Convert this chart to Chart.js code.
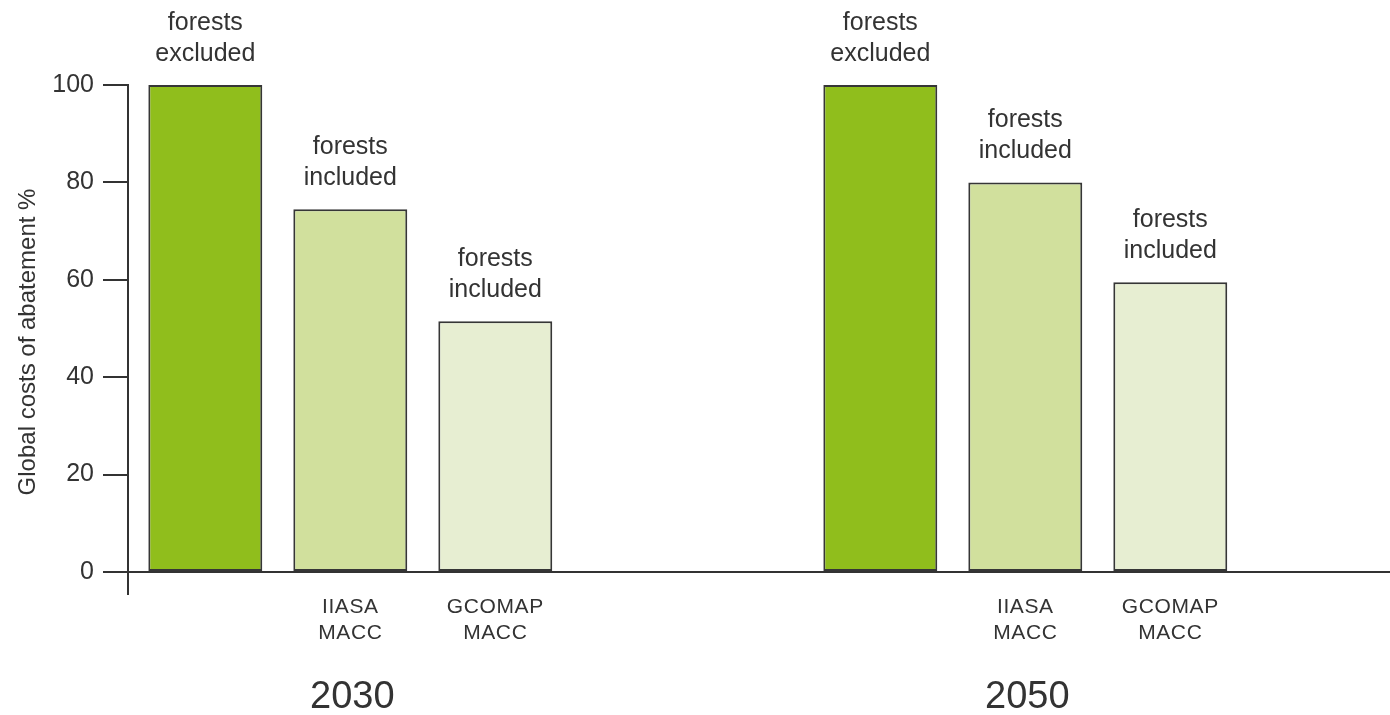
<!DOCTYPE html>
<html>
<head>
<meta charset="utf-8">
<script src="https://cdn.jsdelivr.net/npm/chart.js@4/dist/chart.umd.min.js"></script>
<style>
  html, body { margin: 0; padding: 0; background: #ffffff; }
  #wrap { width: 1390px; height: 715px; }
</style>
</head>
<body>
<div id="wrap"><canvas id="c" width="1390" height="715"></canvas></div>
<script>
// ---- data ----
const years = [2030, 2050];
const seriesNames = ['forests excluded', 'IIASA MACC', 'GCOMAP MACC'];
const forestsExcluded = [100, 100];
const iiasaMacc = [74.5, 80];
const gcomapMacc = [51.5, 59.5];
const barNotes = [['forests', 'excluded'], ['forests', 'included'], ['forests', 'included']];
const barCaptions = [[], ['IIASA', 'MACC'], ['GCOMAP', 'MACC']];
const yTitle = 'Global costs of abatement %';
const yMin = 0, yMax = 100, yStep = 20;

const seriesValues = [forestsExcluded, iiasaMacc, gcomapMacc];
const seriesColors = ['#90be1c', '#d1e09d', '#e7eed2'];
const textColor = '#333333';
const lineColor = '#333333';
const FONT = '"Liberation Sans", Arial, Helvetica, sans-serif';

const labelPlugin = {
  id: 'labelPlugin',
  afterDatasetsDraw(chart) {
    const ctx = chart.ctx;
    const area = chart.chartArea;
    const xs = chart.scales.x;
    ctx.save();
    // axis extension below zero
    ctx.strokeStyle = lineColor;
    ctx.lineWidth = 2;
    ctx.beginPath();
    ctx.moveTo(area.left, area.bottom);
    ctx.lineTo(area.left, area.bottom + 23);
    ctx.stroke();

    ctx.fillStyle = textColor;
    ctx.textAlign = 'center';
    ctx.textBaseline = 'middle';
    chart.data.datasets.forEach((ds, di) => {
      const meta = chart.getDatasetMeta(di);
      meta.data.forEach((bar) => {
        ctx.font = '25px ' + FONT;
        const notes = barNotes[di];
        notes.forEach((t, li) => {
          ctx.fillText(t, bar.x, bar.y - 31 - (notes.length - 1 - li) * 31);
        });
        ctx.font = '21px ' + FONT;
        if ('letterSpacing' in ctx) ctx.letterSpacing = '0.6px';
        barCaptions[di].forEach((t, li) => {
          ctx.fillText(t, bar.x, area.bottom + 35 + li * 26);
        });
        if ('letterSpacing' in ctx) ctx.letterSpacing = '0px';
      });
    });
    ctx.font = '38px ' + FONT;
    years.forEach((yr) => {
      ctx.fillText(String(yr), xs.getPixelForValue(yr) + 2, area.bottom + 126);
    });
    ctx.font = '24px ' + FONT;
    ctx.translate(28, 342);
    ctx.rotate(-Math.PI / 2);
    ctx.fillText(yTitle, 0, 0);
    ctx.restore();
  }
};

new Chart(document.getElementById('c'), {
  type: 'bar',
  data: {
    datasets: seriesNames.map((name, i) => ({
      label: name,
      data: years.map((yr, j) => ({ x: yr, y: seriesValues[i][j] })),
      backgroundColor: seriesColors[i],
      borderColor: '#363636',
      borderWidth: 2,
      borderSkipped: false,
      categoryPercentage: 0.6444,
      barPercentage: 0.786
    }))
  },
  options: {
    responsive: false,
    devicePixelRatio: 1,
    animation: false,
    layout: { padding: { top: 85, bottom: 143, left: 0, right: 0 } },
    plugins: { legend: { display: false }, tooltip: { enabled: false } },
    scales: {
      x: {
        type: 'linear',
        display: false,
        offset: false,
        min: 2030 - 222.3 / 33.75,
        max: 2030 + 1039.7 / 33.75,
        afterBuildTicks: (s) => { s.ticks = years.map((v) => ({ value: v })); }
      },
      y: {
        min: yMin,
        max: yMax,
        afterFit: (s) => { s.width = 128; },
        ticks: {
          stepSize: yStep,
          color: textColor,
          padding: 9,
          font: { size: 25, family: FONT }
        },
        grid: {
          drawOnChartArea: true,
          color: (c) => (c.tick && c.tick.value === 0 ? lineColor : 'rgba(0,0,0,0)'),
          lineWidth: 2,
          tickColor: lineColor,
          tickLength: 25,
          tickWidth: 2
        },
        border: { display: true, color: lineColor, width: 2 }
      }
    }
  },
  plugins: [labelPlugin]
});
</script>
</body>
</html>
